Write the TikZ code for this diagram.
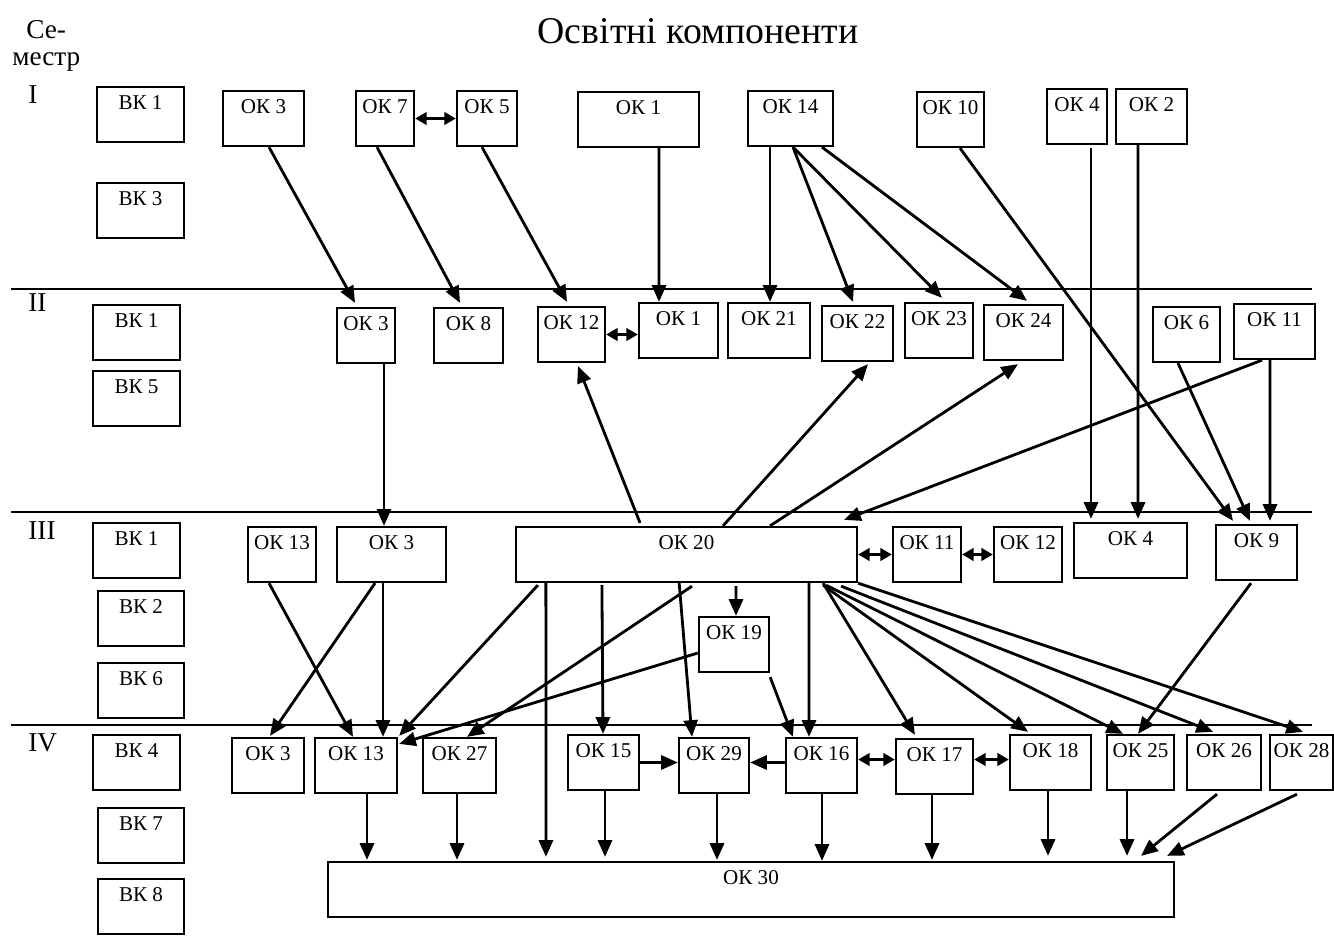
\documentclass[tikz,border=0pt]{standalone}
\usepackage{fontspec}
\setmainfont{Liberation Serif}
\usetikzlibrary{arrows.meta,calc}
\tikzstyle{block} = [draw, rectangle, line width=1.3pt, minimum height=1.1cm,
    text height=11pt, text depth=16.3pt, inner ysep=2pt, inner xsep=1pt,
    font=\fontsize{12}{14}\selectfont]
\tikzstyle{term} = [anchor=base west, inner sep=0pt, font=\fontsize{15.5}{18}\selectfont]
\tikzstyle{rule} = [line width=1.4pt]
\tikzstyle{both} = [{Triangle[length=6.5pt,width=7pt]}-{Triangle[length=6.5pt,width=7pt]}]

\begin{document}
\begin{tikzpicture}[x=0.02cm, y=-0.02cm, line width=1.6pt, >={Triangle[length=9.5pt,width=8pt]}]
  \useasboundingbox (0,0) rectangle (1334,940);
  \node [term] (head) at (25,38) {Се-};
  \node [term] (headb) at (11,65) {местр};
  \node [anchor=base, inner sep=0pt, font=\fontsize{21.5}{24}\selectfont] (title) at (698,43) {Освітні компоненти};
  \node [term] (sem1) at (27,103) {I};
  \node [term] (sem2) at (27,311) {II};
  \node [term] (sem3) at (27,539) {III};
  \node [term] (sem4) at (27,751) {IV};
  \draw [rule] (11,289) -- (1312,289);
  \draw [rule] (11,512) -- (1312,512);
  \draw [rule] (11,725) -- (1312,725);

  % semester I
  \node [block, minimum width=1.74cm] (s1vk1) at (140.5,114.5) {ВК 1};
  \node [block, minimum width=1.74cm] (s1vk3) at (140.5,210.5) {ВК 3};
  \node [block, minimum width=1.62cm] (s1ok3) at (263.5,118.5) {ОК 3};
  \node [block, minimum width=1.16cm] (s1ok7) at (385,118.5) {ОК 7};
  \node [block, minimum width=1.2cm] (s1ok5) at (487,118.5) {ОК 5};
  \node [block, minimum width=2.42cm] (s1ok1) at (638.5,119.5) {ОК 1};
  \node [block, minimum width=1.7cm] (s1ok14) at (790.5,118.5) {ОК 14};
  \node [block, minimum width=1.34cm] (s1ok10) at (950.5,119.5) {ОК 10};
  \node [block, minimum width=1.2cm] (s1ok4) at (1077,116.5) {ОК 4};
  \node [block, minimum width=1.42cm] (s1ok2) at (1151.5,116.5) {ОК 2};

  % semester II
  \node [block, minimum width=1.74cm] (s2vk1) at (136.5,332.5) {ВК 1};
  \node [block, minimum width=1.74cm] (s2vk5) at (136.5,398.5) {ВК 5};
  \node [block, minimum width=1.16cm] (s2ok3) at (366,335.5) {ОК 3};
  \node [block, minimum width=1.38cm] (s2ok8) at (468.5,335.5) {ОК 8};
  \node [block, minimum width=1.34cm] (s2ok12) at (571.5,334.5) {ОК 12};
  \node [block, minimum width=1.58cm] (s2ok1) at (678.5,330.5) {ОК 1};
  \node [block, minimum width=1.64cm] (s2ok21) at (769,330.5) {ОК 21};
  \node [block, minimum width=1.42cm] (s2ok22) at (857.5,333.5) {ОК 22};
  \node [block, minimum width=1.36cm] (s2ok23) at (939,330.5) {ОК 23};
  \node [block, minimum width=1.58cm] (s2ok24) at (1023.5,332.5) {ОК 24};
  \node [block, minimum width=1.34cm] (s2ok6) at (1186.5,334.5) {ОК 6};
  \node [block, minimum width=1.62cm] (s2ok11) at (1274.5,331.5) {ОК 11};

  % semester III
  \node [block, minimum width=1.74cm] (s3vk1) at (136.5,550.5) {ВК 1};
  \node [block, minimum width=1.72cm] (s3vk2) at (141,618.5) {ВК 2};
  \node [block, minimum width=1.72cm] (s3vk6) at (141,690.5) {ВК 6};
  \node [block, minimum width=1.36cm] (s3ok13) at (282,554.5) {ОК 13};
  \node [block, minimum width=2.18cm] (s3ok3) at (391.5,554.5) {ОК 3};
  \node [block, minimum width=6.82cm] (s3ok20) at (686.5,554.5) {ОК 20};
  \node [block, minimum width=1.4cm] (s3ok19) at (734,644.5) {ОК 19};
  \node [block, minimum width=1.36cm] (s3ok11) at (927,554.5) {ОК 11};
  \node [block, minimum width=1.36cm] (s3ok12) at (1028,554.5) {ОК 12};
  \node [block, minimum width=2.26cm] (s3ok4) at (1130.5,550.5) {ОК 4};
  \node [block, minimum width=1.62cm] (s3ok9) at (1256.5,552.5) {ОК 9};

  % semester IV
  \node [block, minimum width=1.74cm] (s4vk4) at (136.5,762.5) {ВК 4};
  \node [block, minimum width=1.72cm] (s4vk7) at (141,835.5) {ВК 7};
  \node [block, minimum width=1.72cm] (s4vk8) at (141,906.5) {ВК 8};
  \node [block, minimum width=1.44cm] (s4ok3) at (268,765.5) {ОК 3};
  \node [block, minimum width=1.64cm] (s4ok13) at (356,765.5) {ОК 13};
  \node [block, minimum width=1.46cm] (s4ok27) at (459.5,765.5) {ОК 27};
  \node [block, minimum width=1.42cm] (s4ok15) at (603.5,762.5) {ОК 15};
  \node [block, minimum width=1.4cm] (s4ok29) at (714,765.5) {ОК 29};
  \node [block, minimum width=1.42cm] (s4ok16) at (821.5,765.5) {ОК 16};
  \node [block, minimum width=1.54cm] (s4ok17) at (934.5,766.5) {ОК 17};
  \node [block, minimum width=1.62cm] (s4ok18) at (1050.5,762.5) {ОК 18};
  \node [block, minimum width=1.34cm] (s4ok25) at (1140.5,762.5) {ОК 25};
  \node [block, minimum width=1.48cm] (s4ok26) at (1224,762.5) {ОК 26};
  \node [block, minimum width=1.26cm] (s4ok28) at (1301.5,762.5) {ОК 28};
  \node [block, minimum width=16.92cm] (s4ok30) at (751,889.5) {ОК 30};

  % I -> II, III
  \draw [both] (s1ok7) -- (s1ok5);
  \draw [->] ($(s1ok3.south)+(5.5,0)$) -- ($(s2ok3.north)+(-11,-4)$);
  \draw [->] ($(s1ok7.south)+(-8,0)$) -- ($(s2ok8.north)+(-8.5,-4)$);
  \draw [->] ($(s1ok5.south)+(-5,0)$) -- ($(s2ok12.north)+(-4.5,-4)$);
  \draw [->] ($(s1ok1.south)+(20.5,0)$) -- ($(s2ok1.north)+(-19.5,0)$);
  \draw [->] ($(s1ok14.south)+(-20.5,0)$) -- ($(s2ok21.north)+(1,0)$);
  \draw [->] ($(s1ok14.south)+(2.5,0)$) -- ($(s2ok22.north)+(-4.5,-3)$);
  \draw [->] ($(s1ok14.south)+(2.5,0)$) -- ($(s2ok23.north)+(3,-4)$);
  \draw [->] ($(s1ok14.south)+(31.5,0)$) -- ($(s2ok24.north)+(3.5,-3)$);
  \draw [->] ($(s1ok10.south)+(9.5,0)$) -- ($(s3ok9.north)+(-23.5,-3)$);
  \draw [->] ($(s1ok4.south)+(14,3)$) -- ($(s3ok4.north)+(-39.5,-3)$);
  \draw [->] ($(s1ok2.south)+(-13.5,0)$) -- ($(s3ok4.north)+(7.5,-3)$);

  % II -> III
  \draw [both] (s2ok12.east) -- (s2ok12.east -| s2ok1.west);
  \draw [->] ($(s2ok3.south)+(18,0)$) -- ($(s3ok3.north)+(-7.5,0)$);
  \draw [->] ($(s2ok6.south)+(-8.5,0)$) -- ($(s3ok9.north)+(-6.5,-3)$);
  \draw [->] ($(s2ok11.south)+(-4.5,0)$) -- ($(s3ok9.north)+(13.5,-3)$);
  \draw [->] ($(s2ok11.south)+(-12.5,0)$) -- ($(s3ok20.north east)+(-14,-6)$);
  \draw [->] ($(s3ok20.north)+(-46.5,-3)$) -- ($(s2ok12.south)+(6.5,3)$);
  \draw [->] ($(s3ok20.north)+(36.5,0)$) -- ($(s2ok22.south)+(10.5,2)$);
  \draw [->] ($(s3ok20.north)+(83.5,0)$) -- ($(s2ok24.south)+(-5.5,3)$);

  % III -> IV
  \draw [both] (s3ok20) -- (s3ok11);
  \draw [both] (s3ok11) -- (s3ok12);
  \draw [->] ($(s3ok13.south)+(-13,0)$) -- ($(s4ok13.north)+(-3,0)$);
  \draw [->] ($(s3ok3.south)+(-16.5,0)$) -- ($(s4ok3.north)+(2,-1)$);
  \draw [->] ($(s3ok3.south)+(-8.5,0)$) -- ($(s4ok13.north)+(27,0)$);
  \draw [->] ($(s3ok20.south west)+(23,2)$) -- ($(s4ok13.north east)+(1,-1)$);
  \draw [->] ($(s3ok19.west)+(0,8.5)$) -- ($(s4ok13.north east)+(1,7)$);
  \draw [->] ($(s3ok20.south west)+(31,0)$) -- ($(s4ok30.north west)+(219,-4)$);
  \draw [->] ($(s3ok20.south west)+(87,2)$) -- ($(s4ok15.north)+(-0.5,0)$);
  \draw [->] ($(s3ok20.south)+(5.5,3)$) -- ($(s4ok27.north)+(7.5,0)$);
  \draw [->] ($(s3ok20.south)+(-7.5,-2)$) -- ($(s4ok29.north)+(-22,0)$);
  \draw [->] ($(s3ok20.south)+(49.5,3)$) -- ($(s3ok19.north)+(2,0)$);
  \draw [->] ($(s3ok19.south east)+(0,4)$) -- ($(s4ok16.north)+(-28.5,0)$);
  \draw [->] ($(s3ok20.south)+(122.5,0)$) -- ($(s4ok16.north)+(-12.5,0)$);
  \draw [->] ($(s3ok20.south east)+(-35,0)$) -- ($(s4ok17.north)+(-19.5,-3)$);
  \draw [->] ($(s3ok20.south east)+(-35,2)$) -- ($(s4ok18.north)+(-22.5,-2)$);
  \draw [->] ($(s3ok20.south east)+(-32,2)$) -- ($(s4ok25.north)+(-17.5,0)$);
  \draw [->] ($(s3ok20.south east)+(-17,3)$) -- ($(s4ok26.north)+(-11,-2)$);
  \draw [->] (s3ok20.south east) -- ($(s4ok28.north)+(1.5,-2)$);
  \draw [->] ($(s3ok9.south)+(-5.5,2)$) -- ($(s4ok25.north)+(-2.5,0)$);

  % IV -> ОК 30
  \draw [->] (s4ok15.east) -- (s4ok15.east -| s4ok29.west);
  \draw [->] ($(s4ok16.west)+(0,-3)$) -- ($(s4ok16.west -| s4ok29.east)+(0,-3)$);
  \draw [both] ($(s4ok16.east)+(0,-6)$) -- ($(s4ok16.east -| s4ok17.west)+(0,-6)$);
  \draw [both] ($(s4ok17.east)+(0,-7)$) -- ($(s4ok17.east -| s4ok18.west)+(0,-7)$);
  \draw [->] ($(s4ok13.south)+(11,0)$) -- ($(s4ok13.south |- s4ok30.north)+(11,-1)$);
  \draw [->] ($(s4ok27.south)+(-2.5,0)$) -- ($(s4ok27.south |- s4ok30.north)+(-2.5,-1)$);
  \draw [->] ($(s4ok15.south)+(1.5,0)$) -- ($(s4ok15.south |- s4ok30.north)+(1.5,-4)$);
  \draw [->] ($(s4ok29.south)+(3,0)$) -- ($(s4ok29.south |- s4ok30.north)+(3,-1)$);
  \draw [->] ($(s4ok16.south)+(0.5,0)$) -- ($(s4ok16.south |- s4ok30.north)+(0.5,0)$);
  \draw [->] ($(s4ok17.south)+(-2.5,0)$) -- ($(s4ok17.south |- s4ok30.north)+(-2.5,-1)$);
  \draw [->] ($(s4ok18.south)+(-2.5,0)$) -- ($(s4ok18.south |- s4ok30.north)+(-2.5,-5)$);
  \draw [->] ($(s4ok25.south)+(-13.5,0)$) -- ($(s4ok25.south |- s4ok30.north)+(-13.5,-5)$);
  \draw [->] ($(s4ok26.south)+(-7,3)$) -- ($(s4ok30.north east)+(-34,-5)$);
  \draw [->] ($(s4ok28.south)+(-4.5,3)$) -- ($(s4ok30.north east)+(-8,-5)$);
\end{tikzpicture}
\end{document}
